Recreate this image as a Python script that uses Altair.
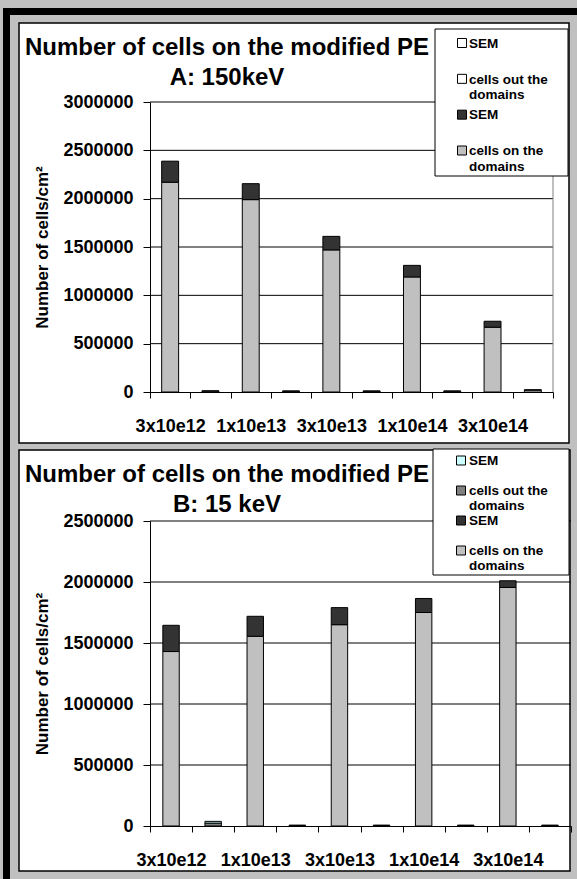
import altair as alt
import pandas as pd

FONT = "Liberation Sans, Arial, Helvetica, sans-serif"

# ---------------- data ----------------
doses = ["3x10e12", "1x10e13", "3x10e13", "1x10e14", "3x10e14"]
series_keys = ["on", "on_sem", "out", "out_sem"]

# Panel A: 150 keV
a_on = [2170000, 1990000, 1470000, 1190000, 670000]
a_on_sem = [218000, 165000, 140000, 120000, 62000]
a_out = [9000, 8000, 8000, 8000, 18000]
a_out_sem = [3000, 2000, 2000, 2000, 6000]

# Panel B: 15 keV
b_on = [1430000, 1555000, 1650000, 1750000, 1955000]
b_on_sem = [215000, 164000, 140000, 115000, 55000]
b_out = [24000, 5000, 5000, 5000, 5000]
b_out_sem = [14000, 1000, 1000, 1000, 1000]

a_colors = ["#c0c0c0", "#333333", "#ffffff", "#ffffff"]
b_colors = ["#c0c0c0", "#333333", "#808080", "#ccffff"]

a_ticks = [0, 500000, 1000000, 1500000, 2000000, 2500000, 3000000]
b_ticks = [0, 500000, 1000000, 1500000, 2000000, 2500000]

legend_keys = ["out_sem", "out", "on_sem", "on"]
legend_labels = ["SEM", "cells out the\ndomains", "SEM", "cells on the\ndomains"]

title_main = "Number of cells on the modified PE"
y_title = "Number of cells/cm\u00b2"

dummy = pd.DataFrame({"k": [0]})


def deco_rect(x1, x2, y1, y2, fill, stroke=None, sw=0):
    kw = dict(fill=fill, strokeWidth=sw)
    if stroke:
        kw["stroke"] = stroke
    return alt.Chart(dummy).mark_rect(**kw).encode(
        x=alt.value(x1), x2=alt.value(x2), y=alt.value(y1), y2=alt.value(y2)
    )


def panel(on, on_sem, out, out_sem, colors, ticks, W, H, bandfrac,
          decos, legend_box, sq_x, legend_range, line_h, subtitle, t_y,
          right_border):
    slots = []
    rows = []
    for i, d in enumerate(doses):
        groups = (("on", ("on", "on_sem"), (on[i], on_sem[i])),
                  ("out", ("out", "out_sem"), (out[i], out_sem[i])))
        for part, keys, vals in groups:
            slot = f"{d}|{part}"
            slots.append(slot)
            for k, v in zip(keys, vals):
                rows.append({"slot": slot, "series": k,
                             "order": series_keys.index(k), "value": v})
    df = pd.DataFrame(rows)
    ymax = ticks[-1]
    cscale = alt.Scale(domain=series_keys, range=colors)

    def yscale():
        return alt.Scale(domain=[0, ymax], nice=False, zero=True)

    grid = alt.Chart(pd.DataFrame({"v": ticks[1:]})).mark_rule(
        color="black", strokeWidth=1
    ).encode(y=alt.Y("v:Q", scale=yscale(), axis=None))

    bars = alt.Chart(df).mark_bar(
        stroke="black", strokeWidth=1, width=alt.RelativeBandSize(bandfrac)
    ).encode(
        x=alt.X("slot:N", sort=slots,
                scale=alt.Scale(domain=slots, paddingInner=0, paddingOuter=0),
                axis=alt.Axis(
                    title=None,
                    labelExpr="split(datum.value, '|')[1] == 'on' ? split(datum.value, '|')[0] : ''",
                    labelAngle=0, labelFont=FONT, labelFontSize=18,
                    labelFontWeight="bold", labelColor="black",
                    labelPadding=19, labelOverlap=False,
                    tickBand="extent", tickSize=6, tickColor="black",
                    domainColor="black", grid=False, zindex=1)),
        y=alt.Y("value:Q", stack="zero", scale=yscale(),
                axis=alt.Axis(
                    title=y_title, values=ticks, format="d",
                    labelFont=FONT, labelFontSize=18, labelFontWeight="bold",
                    labelColor="black", labelPadding=10,
                    tickSize=7, tickColor="black", domainColor="black",
                    grid=False, zindex=1,
                    titleFont=FONT, titleFontSize=17, titleFontWeight="bold",
                    titleColor="black", titleX=-108, titleY=H / 2,
                    titleAngle=270, titleAlign="center",
                    titleBaseline="middle")),
        color=alt.Color("series:N", scale=cscale, legend=None),
        order=alt.Order("order:Q"),
    )

    ldf = pd.DataFrame({"series": legend_keys, "label": legend_labels,
                        "row": [0, 1, 2, 3]})
    lrow = alt.Y("row:O", scale=alt.Scale(type="point", domain=[0, 1, 2, 3],
                                          range=legend_range, padding=0),
                 axis=None)
    lbox = deco_rect(legend_box[0], legend_box[1], legend_box[2],
                     legend_box[3], "white", "#000000", 1)
    lsq = alt.Chart(ldf).mark_square(
        size=81, stroke="black", strokeWidth=1, opacity=1
    ).encode(x=alt.value(sq_x), y=lrow,
             color=alt.Color("series:N", scale=cscale, legend=None))
    ltx = alt.Chart(ldf).mark_text(
        align="left", baseline="alphabetic", dy=4.8, lineBreak="\n",
        lineHeight=line_h, font=FONT, fontSize=13.5, fontWeight="bold",
        color="black"
    ).encode(x=alt.value(319), y=lrow, text="label:N")

    t1 = alt.Chart(dummy).mark_text(
        align="center", baseline="alphabetic", font=FONT, fontSize=24,
        fontWeight="bold", color="black"
    ).encode(x=alt.value(77), y=alt.value(t_y[0]), text=alt.value(title_main))
    t2 = alt.Chart(dummy).mark_text(
        align="center", baseline="alphabetic", font=FONT, fontSize=24,
        fontWeight="bold", color="black"
    ).encode(x=alt.value(77), y=alt.value(t_y[1]), text=alt.value(subtitle))

    layers = list(decos) + [grid]
    if right_border:
        layers.append(alt.Chart(dummy).mark_rule(color="#808080", strokeWidth=1).encode(
            x=alt.value(W), y=alt.value(0), y2=alt.value(H)))
    layers += [bars, lbox, lsq, ltx, t1, t2]
    return alt.layer(*layers).resolve_scale(y="independent").properties(
        width=W, height=H)


# Panel A plot origin at (150, 102); panel B plot origin at (150, 521)
decos_a = [
    deco_rect(-150, 427, -102, 777, "#c0c0c0"),
    deco_rect(-147, 427, -94, -87, "#000000"),
    deco_rect(-147, -140, -94, 777, "#000000"),
    deco_rect(-131, 419, -79, 341, "#ffffff", "#000000", 1.5),
]
decos_b = [
    deco_rect(-131, 420, -71, 350, "#ffffff", "#000000", 1.5),
]

chart_a = panel(a_on, a_on_sem, a_out, a_out_sem, a_colors, a_ticks,
                403, 290, 0.42, decos_a, (285, 418, -73, 74), 312,
                [-59, 48.5], 15.5, "A: 150keV", (-47, -17), True)
chart_b = panel(b_on, b_on_sem, b_out, b_out_sem, b_colors, b_ticks,
                421, 305, 0.39, decos_b, (283, 419, -72, 54), 311,
                [-60.5, 29.5], 14.5, "B: 15 keV", (-39, -9), False)

chart = alt.vconcat(chart_a, chart_b, spacing=129, bounds="flush").resolve_scale(
    x="independent", y="independent", color="independent"
).configure(
    background="#c0c0c0", padding=0
).configure_view(strokeWidth=0)

chart.save("out.html", embed_options={"renderer": "svg", "actions": False})
